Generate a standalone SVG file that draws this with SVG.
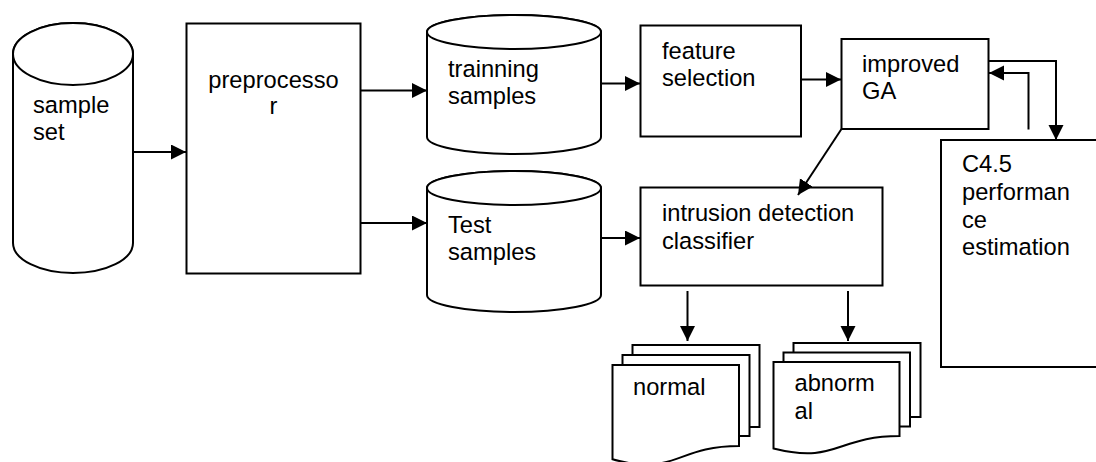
<svg xmlns="http://www.w3.org/2000/svg" width="1096" height="462" viewBox="0 0 1096 462">
<style>
.s{fill:#fff;stroke:#000;stroke-width:2}
.t{font-family:"Liberation Sans",Arial,sans-serif;font-size:23.7px;fill:#000}
.c{fill:none;stroke:#000;stroke-width:2}
</style>
<defs>
<marker id="ah" markerUnits="userSpaceOnUse" markerWidth="16" markerHeight="16" refX="15" refY="7.5" orient="auto">
<path d="M0,0 L15,7.5 L0,15 z" fill="#000"/>
</marker>
</defs>
<rect width="1096" height="462" fill="#fff"/>
<g id="sample-set">
<path class="s" d="M13,54 A60,31 0 0 1 133,54 V243 A60,30 0 0 1 13,243 Z"/>
<ellipse class="s" cx="73" cy="54" rx="60" ry="31"/>
<text class="t" x="33" y="113">sample</text>
<text class="t" x="33" y="140">set</text>
</g>
<g id="preprocessor">
<rect class="s" x="186.5" y="23.5" width="174" height="250"/>
<text class="t" x="273.5" y="87.5" text-anchor="middle">preprocesso</text>
<text class="t" x="273.5" y="114" text-anchor="middle">r</text>
</g>
<g id="training">
<path class="s" d="M427,32 A87,17 0 0 1 601,32 V137 A87,17 0 0 1 427,137 Z"/>
<ellipse class="s" cx="514" cy="32" rx="87" ry="17"/>
<text class="t" x="448" y="77">trainning</text>
<text class="t" x="448" y="104">samples</text>
</g>
<g id="test">
<path class="s" d="M427,188 A87,17 0 0 1 601,188 V295 A87,17 0 0 1 427,295 Z"/>
<ellipse class="s" cx="514" cy="188" rx="87" ry="17"/>
<text class="t" x="448" y="233">Test</text>
<text class="t" x="448" y="260">samples</text>
</g>
<g id="feature">
<rect class="s" x="640.5" y="25.5" width="160.5" height="111"/>
<text class="t" x="662" y="59">feature</text>
<text class="t" x="662" y="86">selection</text>
</g>
<g id="ga">
<rect class="s" x="841.5" y="39" width="147" height="90"/>
<text class="t" x="862" y="71.5">improved</text>
<text class="t" x="862" y="99">GA</text>
</g>
<g id="c45">
<rect class="s" x="941" y="140" width="170" height="227"/>
<text class="t" x="962" y="172">C4.5</text>
<text class="t" x="962" y="200">performan</text>
<text class="t" x="962" y="228">ce</text>
<text class="t" x="962" y="255">estimation</text>
</g>
<g id="classifier">
<rect class="s" x="640.5" y="187.5" width="242" height="98"/>
<text class="t" x="662" y="220.5">intrusion detection</text>
<text class="t" x="662" y="248.5">classifier</text>
</g>
<g id="normal">
<rect class="s" x="632.5" y="345" width="127" height="82"/>
<rect class="s" x="622.5" y="355" width="127" height="81"/>
<path class="s" d="M612.5,365 H739 V446 C675.5,446 675.5,476.8 612.5,459.3 Z"/>
<text class="t" x="633" y="394.5">normal</text>
</g>
<g id="abnormal">
<rect class="s" x="793.5" y="343" width="127" height="74"/>
<rect class="s" x="783.5" y="352.5" width="126.5" height="74"/>
<path class="s" d="M773.5,362 H899.5 V436 C836.5,436 836.5,464.2 773.5,448.5 Z"/>
<text class="t" x="794.5" y="391">abnorm</text>
<text class="t" x="794.5" y="418.5">al</text>
</g>
<g id="connectors">
<line class="c" x1="133" y1="152" x2="186" y2="152" marker-end="url(#ah)"/>
<line class="c" x1="361" y1="90.5" x2="427" y2="90.5" marker-end="url(#ah)"/>
<line class="c" x1="361" y1="223" x2="427" y2="223" marker-end="url(#ah)"/>
<line class="c" x1="601" y1="83.5" x2="640" y2="83.5" marker-end="url(#ah)"/>
<line class="c" x1="601" y1="238" x2="640" y2="238" marker-end="url(#ah)"/>
<line class="c" x1="801" y1="79.5" x2="841" y2="79.5" marker-end="url(#ah)"/>
<polyline class="c" points="989,61 1056,61 1056,140" marker-end="url(#ah)"/>
<polyline class="c" points="1028.5,129.5 1028.5,73 989,73" marker-end="url(#ah)"/>
<line class="c" x1="841.5" y1="129" x2="798" y2="195" marker-end="url(#ah)"/>
<line class="c" x1="687.5" y1="291" x2="687.5" y2="341" marker-end="url(#ah)"/>
<line class="c" x1="848" y1="291" x2="848" y2="341" marker-end="url(#ah)"/>
</g>
</svg>
